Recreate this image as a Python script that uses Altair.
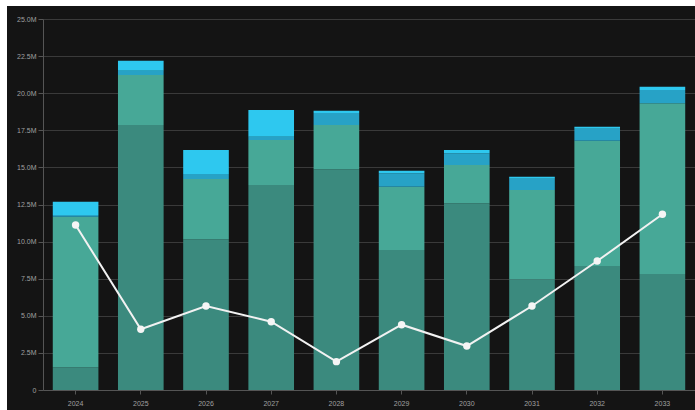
import altair as alt
import pandas as pd

years = ["2024", "2025", "2026", "2027", "2028", "2029", "2030", "2031", "2032", "2033"]
series_names = ["Base", "Core", "Extra", "Peak"]
base = [1.53, 17.86, 10.15, 13.81, 14.87, 9.43, 12.58, 7.46, 8.36, 7.82]
core = [10.15, 3.37, 4.07, 3.04, 2.99, 4.27, 2.58, 6.02, 8.44, 11.50]
extra = [0.12, 0.29, 0.34, 0.22, 0.80, 0.90, 0.80, 0.75, 0.80, 0.90]
peak = [0.89, 0.67, 1.61, 1.80, 0.16, 0.18, 0.21, 0.14, 0.14, 0.22]
line_vals = [11.12, 4.09, 5.66, 4.60, 1.91, 4.40, 2.96, 5.66, 8.69, 11.84]
colors = ["#3b8a7e", "#47a897", "#27a2c6", "#2ec8ef"]
TICK_STEP = 2.5  # millions per axis tick

rows = []
for i, name in enumerate(series_names):
    vals = [base, core, extra, peak][i]
    for y, v in zip(years, vals):
        rows.append({"year": y, "series": name, "order": i, "value": v / TICK_STEP})
bars_df = pd.DataFrame(rows)
line_df = pd.DataFrame({"year": years, "value": [v / TICK_STEP for v in line_vals]})

W, H = 652, 371

xaxis = alt.Axis(labelAngle=0, labelColor="#a0a0a0", labelFontSize=7,
                 labelPadding=5, tickColor="#555555", tickSize=4,
                 domainColor="#555555", grid=False, labelOverlap=False)
xscale = alt.Scale(paddingInner=0.3, paddingOuter=0.15)
yaxis = alt.Axis(tickCount=10, labelColor="#a0a0a0", labelFontSize=7,
                 labelOverlap=False,
                 labelExpr="datum.value == 0 ? '0' : format(datum.value * 2.5, '.1f') + 'M'",
                 tickColor="#555555", tickSize=5, domainColor="#555555",
                 gridColor="#3a3a3a", gridWidth=1)
yscale = alt.Scale(domain=[0, 10], nice=False)

strip_df = pd.DataFrame({"a": [0]})
top_strip = alt.Chart(strip_df).mark_rect(color="white").encode(
    x=alt.value(-43), x2=alt.value(W), y=alt.value(-19), y2=alt.value(-13))
left_strip = alt.Chart(strip_df).mark_rect(color="white").encode(
    x=alt.value(-43), x2=alt.value(-36), y=alt.value(-19), y2=alt.value(H + 20))

bars = alt.Chart(bars_df).mark_bar().encode(
    x=alt.X("year:N", sort=years, title=None, scale=xscale, axis=xaxis),
    y=alt.Y("value:Q", stack="zero", scale=yscale, title=None, axis=yaxis),
    color=alt.Color("series:N", scale=alt.Scale(domain=series_names, range=colors), legend=None),
    order=alt.Order("order:Q", sort="ascending"),
)

line = alt.Chart(line_df).mark_line(color="#f2f2f2", strokeWidth=2).encode(
    x=alt.X("year:N", sort=years, title=None, scale=xscale, axis=xaxis),
    y=alt.Y("value:Q", scale=yscale, title=None, axis=yaxis))
pts = alt.Chart(line_df).mark_point(filled=True, color="#f5f5f5", size=55, opacity=1).encode(
    x=alt.X("year:N", sort=years, title=None, scale=xscale, axis=xaxis),
    y=alt.Y("value:Q", scale=yscale, title=None, axis=yaxis))

chart = alt.layer(bars, line, pts, top_strip, left_strip).properties(
    width=W, height=H,
    autosize=alt.AutoSizeParams(type="none"),
    padding={"left": 43, "top": 19, "right": 0, "bottom": 20},
).configure(background="#141414").configure_view(stroke=None)

chart.save("out.html", embed_options={"renderer": "svg", "actions": False})
